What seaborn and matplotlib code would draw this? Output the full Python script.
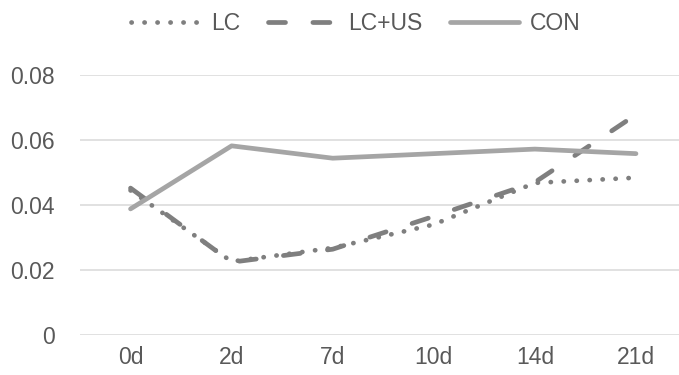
import matplotlib
matplotlib.use("Agg")
import matplotlib.pyplot as plt
import seaborn as sns
import pandas as pd

days = ["0d", "2d", "7d", "10d", "14d", "21d"]
lc = [0.0445, 0.0226, 0.0268, 0.0340, 0.0468, 0.0484]
lc_us = [0.0452, 0.0224, 0.0264, 0.0365, 0.0470, 0.0678]
con = [0.0388, 0.0582, 0.0544, 0.0558, 0.0572, 0.0558]
series_names = ["LC", "LC+US", "CON"]
y_ticks = [0, 0.02, 0.04, 0.06, 0.08]
y_labels = ["0", "0.02", "0.04", "0.06", "0.08"]

rows = []
for name, vals in zip(series_names, [lc, lc_us, con]):
    for d, v in zip(days, vals):
        rows.append({"day": d, "value": v, "series": name})
df = pd.DataFrame(rows)

sns.set_theme(style="white")
plt.rcParams["font.family"] = ["Liberation Sans", "DejaVu Sans"]

fig = plt.figure(figsize=(6.79, 3.75), dpi=100)
ax = fig.add_axes([80 / 679, 1 - 335 / 375, (686.5 - 80) / 679, 260 / 375])

palette = {"LC": "#7f7f7f", "LC+US": "#7f7f7f", "CON": "#a5a5a5"}
dashes = {"LC": (0.05, 2.7), "LC+US": (3.6, 5.8), "CON": ""}
sns.lineplot(data=df, x="day", y="value", hue="series", style="series",
             palette=palette, dashes=dashes, sort=False, linewidth=3.4,
             ax=ax, legend=False)

for line in ax.get_lines():
    line.set_dash_capstyle("round")
    line.set_solid_capstyle("round")
    line.set_solid_joinstyle("round")
    line.set_dash_joinstyle("round")

ax.set_xlim(-0.5, 5.5)
ax.set_ylim(0, 0.08)
ax.set_yticks(y_ticks)
ax.set_yticklabels(y_labels)
ax.set_xticks(range(len(days)))
ax.set_xticklabels(days)
ax.set_xlabel("")
ax.set_ylabel("")
ax.grid(axis="y", color="#d9d9d9", linewidth=1.1)
ax.set_axisbelow(True)
for s in ax.spines.values():
    s.set_visible(False)
ax.tick_params(axis="y", length=0, pad=18, labelsize=16.5, labelcolor="#595959")
ax.tick_params(axis="x", length=0, pad=8, labelsize=16.5, labelcolor="#595959")

handles = [l for l in ax.get_lines()[:3]]
leg = fig.legend(handles, series_names, loc="upper center",
                 bbox_to_anchor=(356 / 679, 1.022), ncol=3, frameon=False,
                 fontsize=16.5, handlelength=3.0, columnspacing=1.2,
                 handletextpad=0.5, labelcolor="#595959")

fig.savefig("out.png", dpi=100)
